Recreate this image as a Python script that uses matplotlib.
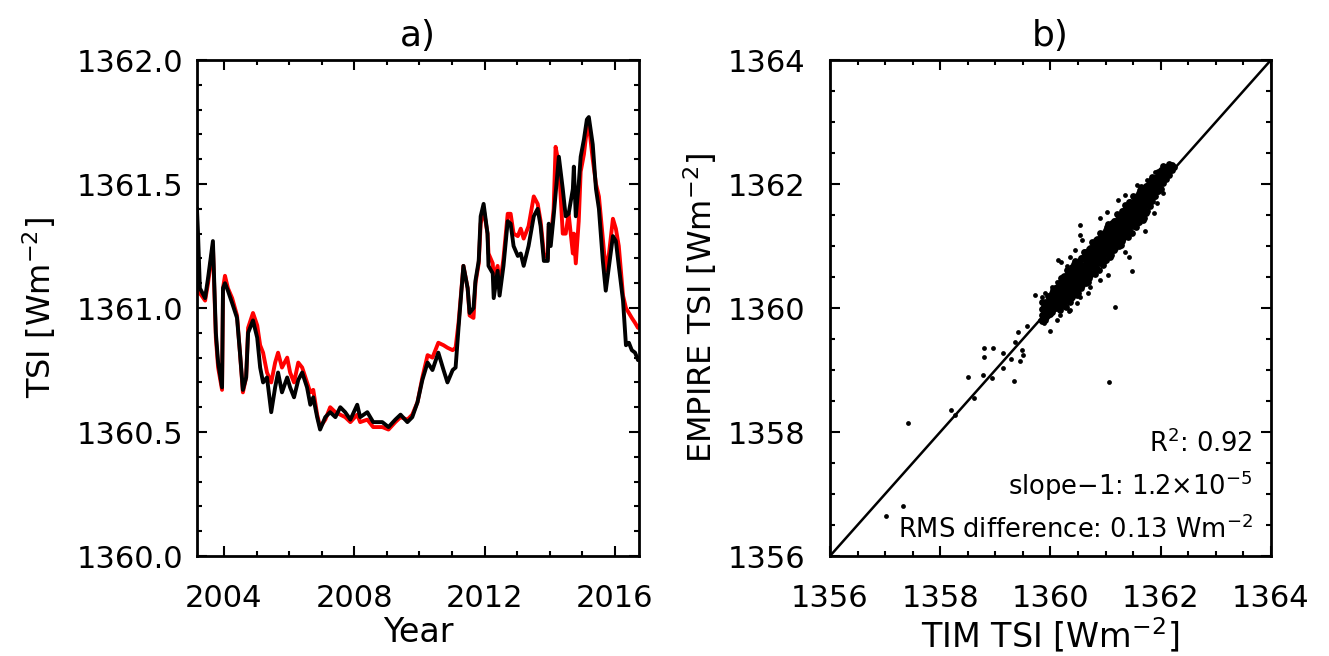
import numpy as np
import matplotlib
matplotlib.use("Agg")
import matplotlib.pyplot as plt
from matplotlib.ticker import MultipleLocator, FormatStrFormatter

plt.rcParams['font.family'] = ['DejaVu Sans']
plt.rcParams['mathtext.default'] = 'regular'

# smoothed TSI time series (Wm-2), panel a
year = [2003.17, 2003.20, 2003.26, 2003.42, 2003.51, 2003.66, 2003.75, 2003.82, 2003.94, 2003.97,
        2004.03, 2004.12, 2004.25, 2004.40, 2004.49, 2004.58, 2004.68, 2004.74, 2004.89, 2005.02,
        2005.11, 2005.20, 2005.32, 2005.45, 2005.57, 2005.66, 2005.78, 2005.94, 2006.03, 2006.15,
        2006.28, 2006.40, 2006.55, 2006.65, 2006.74, 2006.86, 2006.95, 2007.11, 2007.26, 2007.42,
        2007.57, 2007.72, 2007.88, 2008.09, 2008.18, 2008.40, 2008.58, 2008.86, 2009.05, 2009.26,
        2009.42, 2009.63, 2009.78, 2009.94, 2010.09, 2010.25, 2010.40, 2010.58, 2010.74, 2010.86,
        2011.02, 2011.11, 2011.20, 2011.35, 2011.48, 2011.54, 2011.66, 2011.72, 2011.82, 2011.88,
        2011.97, 2012.09, 2012.12, 2012.25, 2012.28, 2012.40, 2012.46, 2012.58, 2012.71, 2012.80,
        2012.89, 2013.02, 2013.11, 2013.20, 2013.35, 2013.51, 2013.63, 2013.72, 2013.82, 2013.94,
        2013.97, 2014.03, 2014.12, 2014.18, 2014.28, 2014.40, 2014.49, 2014.58, 2014.71, 2014.74,
        2014.80, 2014.89, 2014.95, 2015.05, 2015.14, 2015.20, 2015.32, 2015.42, 2015.51, 2015.63,
        2015.72, 2015.82, 2015.94, 2016.03, 2016.12, 2016.25, 2016.34, 2016.43, 2016.52, 2016.62,
        2016.71, 2016.77]

tsi_tim = [1361.08, 1361.06, 1361.06, 1361.03, 1361.10, 1361.25, 1360.88, 1360.76, 1360.67, 1361.08,
           1361.13, 1361.08, 1361.04, 1360.97, 1360.82, 1360.66, 1360.72, 1360.92, 1360.98, 1360.93,
           1360.85, 1360.82, 1360.74, 1360.70, 1360.78, 1360.82, 1360.76, 1360.80, 1360.74, 1360.70,
           1360.78, 1360.76, 1360.70, 1360.66, 1360.67, 1360.57, 1360.52, 1360.55, 1360.60, 1360.58,
           1360.57, 1360.56, 1360.54, 1360.57, 1360.54, 1360.55, 1360.52, 1360.52, 1360.51, 1360.54,
           1360.56, 1360.55, 1360.57, 1360.62, 1360.72, 1360.81, 1360.80, 1360.86, 1360.85, 1360.84,
           1360.83, 1360.84, 1360.94, 1361.17, 1361.08, 1360.97, 1360.96, 1361.10, 1361.18, 1361.34,
           1361.40, 1361.30, 1361.22, 1361.18, 1361.12, 1361.17, 1361.08, 1361.20, 1361.38, 1361.38,
           1361.30, 1361.29, 1361.32, 1361.28, 1361.33, 1361.45, 1361.42, 1361.35, 1361.22, 1361.20,
           1361.33, 1361.28, 1361.40, 1361.65, 1361.58, 1361.30, 1361.30, 1361.38, 1361.22, 1361.30,
           1361.18, 1361.35, 1361.55, 1361.62, 1361.72, 1361.74, 1361.60, 1361.50, 1361.45, 1361.28,
           1361.15, 1361.22, 1361.36, 1361.32, 1361.25, 1361.05, 1361.00, 1360.98, 1360.96, 1360.94,
           1360.92, 1360.93]

tsi_empire = [1361.40, 1361.31, 1361.08, 1361.04, 1361.12, 1361.27, 1360.90, 1360.78, 1360.68, 1361.08,
              1361.10, 1361.07, 1361.02, 1360.96, 1360.82, 1360.67, 1360.72, 1360.90, 1360.95, 1360.88,
              1360.76, 1360.70, 1360.72, 1360.58, 1360.68, 1360.74, 1360.66, 1360.72, 1360.68, 1360.64,
              1360.71, 1360.74, 1360.68, 1360.61, 1360.64, 1360.56, 1360.51, 1360.56, 1360.58, 1360.56,
              1360.60, 1360.58, 1360.55, 1360.61, 1360.56, 1360.58, 1360.54, 1360.54, 1360.52, 1360.55,
              1360.57, 1360.54, 1360.56, 1360.62, 1360.71, 1360.78, 1360.75, 1360.82, 1360.75, 1360.70,
              1360.75, 1360.76, 1360.92, 1361.17, 1361.08, 1360.98, 1361.00, 1361.11, 1361.19, 1361.37,
              1361.42, 1361.30, 1361.17, 1361.14, 1361.04, 1361.15, 1361.05, 1361.17, 1361.35, 1361.34,
              1361.25, 1361.21, 1361.22, 1361.17, 1361.25, 1361.37, 1361.40, 1361.33, 1361.19, 1361.19,
              1361.34, 1361.25, 1361.37, 1361.46, 1361.61, 1361.48, 1361.37, 1361.38, 1361.48, 1361.57,
              1361.37, 1361.50, 1361.61, 1361.68, 1361.76, 1361.77, 1361.66, 1361.48, 1361.40, 1361.19,
              1361.07, 1361.17, 1361.29, 1361.27, 1361.17, 1361.03, 1360.85, 1360.86, 1360.83, 1360.82,
              1360.79, 1360.80]

# daily TIM vs EMPIRE values, panel b: dense core of the cloud
core_tim = [
    1359.85, 1359.85, 1359.85, 1359.85, 1359.90, 1359.90, 1359.90, 1359.90,
    1359.95, 1359.95, 1359.95, 1359.95, 1360.00, 1360.00, 1360.00, 1360.00,
    1360.05, 1360.05, 1360.05, 1360.05, 1360.10, 1360.10, 1360.10, 1360.10,
    1360.15, 1360.15, 1360.15, 1360.15, 1360.15, 1360.20, 1360.20, 1360.20, 1360.20, 1360.20,
    1360.25, 1360.25, 1360.25, 1360.25, 1360.25, 1360.25,
    1360.30, 1360.30, 1360.30, 1360.30, 1360.30, 1360.30,
    1360.35, 1360.35, 1360.35, 1360.35, 1360.35, 1360.35,
    1360.40, 1360.40, 1360.40, 1360.40, 1360.40, 1360.40,
    1360.45, 1360.45, 1360.45, 1360.45, 1360.45, 1360.45,
    1360.50, 1360.50, 1360.50, 1360.50, 1360.50, 1360.50,
    1360.55, 1360.55, 1360.55, 1360.55, 1360.55, 1360.55,
    1360.60, 1360.60, 1360.60, 1360.60, 1360.60, 1360.60,
    1360.65, 1360.65, 1360.65, 1360.65, 1360.65, 1360.65,
    1360.70, 1360.70, 1360.70, 1360.70, 1360.70, 1360.70,
    1360.75, 1360.75, 1360.75, 1360.75, 1360.75, 1360.75,
    1360.80, 1360.80, 1360.80, 1360.80, 1360.80, 1360.80,
    1360.85, 1360.85, 1360.85, 1360.85, 1360.85, 1360.85,
    1360.90, 1360.90, 1360.90, 1360.90, 1360.90, 1360.90,
    1360.95, 1360.95, 1360.95, 1360.95, 1360.95, 1360.95,
    1361.00, 1361.00, 1361.00, 1361.00, 1361.00, 1361.00,
    1361.05, 1361.05, 1361.05, 1361.05, 1361.05, 1361.05,
    1361.10, 1361.10, 1361.10, 1361.10, 1361.10, 1361.10,
    1361.15, 1361.15, 1361.15, 1361.15, 1361.15, 1361.15,
    1361.20, 1361.20, 1361.20, 1361.20, 1361.20, 1361.20,
    1361.25, 1361.25, 1361.25, 1361.25, 1361.25, 1361.25,
    1361.30, 1361.30, 1361.30, 1361.30, 1361.30, 1361.30,
    1361.35, 1361.35, 1361.35, 1361.35, 1361.35, 1361.35,
    1361.40, 1361.40, 1361.40, 1361.40, 1361.40, 1361.40,
    1361.45, 1361.45, 1361.45, 1361.45, 1361.45, 1361.45,
    1361.50, 1361.50, 1361.50, 1361.50, 1361.50, 1361.50,
    1361.55, 1361.55, 1361.55, 1361.55, 1361.55, 1361.55,
    1361.60, 1361.60, 1361.60, 1361.60, 1361.60, 1361.60,
    1361.65, 1361.65, 1361.65, 1361.65, 1361.65, 1361.65,
    1361.70, 1361.70, 1361.70, 1361.70, 1361.70, 1361.70,
    1361.75, 1361.75, 1361.75, 1361.75, 1361.75,
    1361.80, 1361.80, 1361.80, 1361.80, 1361.80,
    1361.85, 1361.85, 1361.85, 1361.85, 1361.85,
    1361.90, 1361.90, 1361.90, 1361.90, 1361.95, 1361.95, 1361.95, 1361.95,
    1362.00, 1362.00, 1362.00, 1362.00, 1362.05, 1362.05, 1362.05, 1362.05,
    1362.10, 1362.10, 1362.10, 1362.15, 1362.15, 1362.15, 1362.20, 1362.20, 1362.25,
    1359.875, 1359.875, 1359.875, 1359.925, 1359.925, 1359.925, 1359.975, 1359.975, 1359.975,
    1360.025, 1360.025, 1360.025, 1360.025, 1360.075, 1360.075, 1360.075, 1360.075,
    1360.125, 1360.125, 1360.125, 1360.125,
    1360.175, 1360.175, 1360.175, 1360.175, 1360.175, 1360.225, 1360.225, 1360.225, 1360.225, 1360.225,
    1360.275, 1360.275, 1360.275, 1360.275, 1360.275, 1360.325, 1360.325, 1360.325, 1360.325, 1360.325,
    1360.375, 1360.375, 1360.375, 1360.375, 1360.375, 1360.425, 1360.425, 1360.425, 1360.425, 1360.425,
    1360.475, 1360.475, 1360.475, 1360.475, 1360.475, 1360.525, 1360.525, 1360.525, 1360.525, 1360.525,
    1360.575, 1360.575, 1360.575, 1360.575, 1360.575, 1360.625, 1360.625, 1360.625, 1360.625, 1360.625,
    1360.675, 1360.675, 1360.675, 1360.675, 1360.675, 1360.725, 1360.725, 1360.725, 1360.725, 1360.725,
    1360.775, 1360.775, 1360.775, 1360.775, 1360.775, 1360.825, 1360.825, 1360.825, 1360.825, 1360.825,
    1360.875, 1360.875, 1360.875, 1360.875, 1360.875, 1360.925, 1360.925, 1360.925, 1360.925, 1360.925,
    1360.975, 1360.975, 1360.975, 1360.975, 1360.975, 1361.025, 1361.025, 1361.025, 1361.025, 1361.025,
    1361.075, 1361.075, 1361.075, 1361.075, 1361.075, 1361.125, 1361.125, 1361.125, 1361.125, 1361.125,
    1361.175, 1361.175, 1361.175, 1361.175, 1361.175, 1361.225, 1361.225, 1361.225, 1361.225, 1361.225,
    1361.275, 1361.275, 1361.275, 1361.275, 1361.275, 1361.325, 1361.325, 1361.325, 1361.325, 1361.325,
    1361.375, 1361.375, 1361.375, 1361.375, 1361.375, 1361.425, 1361.425, 1361.425, 1361.425, 1361.425,
    1361.475, 1361.475, 1361.475, 1361.475, 1361.475, 1361.525, 1361.525, 1361.525, 1361.525, 1361.525,
    1361.575, 1361.575, 1361.575, 1361.575, 1361.575, 1361.625, 1361.625, 1361.625, 1361.625, 1361.625,
    1361.675, 1361.675, 1361.675, 1361.675, 1361.675, 1361.725, 1361.725, 1361.725, 1361.725, 1361.725,
    1361.775, 1361.775, 1361.775, 1361.775, 1361.825, 1361.825, 1361.825, 1361.825,
    1361.875, 1361.875, 1361.875, 1361.925, 1361.925, 1361.925, 1361.975, 1361.975, 1361.975,
    1362.025, 1362.025, 1362.025, 1362.075, 1362.075, 1362.125, 1362.125]

core_empire = [
    1359.79, 1359.89, 1359.99, 1360.09, 1359.80, 1359.90, 1359.99, 1360.09,
    1359.89, 1359.99, 1360.09, 1360.19, 1359.90, 1360.00, 1360.09, 1360.19,
    1359.99, 1360.09, 1360.19, 1360.29, 1360.00, 1360.10, 1360.19, 1360.29,
    1360.00, 1360.10, 1360.20, 1360.30, 1360.40, 1360.08, 1360.18, 1360.28, 1360.38, 1360.48,
    1360.03, 1360.13, 1360.22, 1360.31, 1360.40, 1360.51,
    1360.12, 1360.22, 1360.31, 1360.40, 1360.50, 1360.61,
    1360.10, 1360.20, 1360.30, 1360.39, 1360.48, 1360.57,
    1360.18, 1360.28, 1360.37, 1360.46, 1360.55, 1360.66,
    1360.27, 1360.37, 1360.46, 1360.55, 1360.65, 1360.76,
    1360.25, 1360.35, 1360.45, 1360.54, 1360.63, 1360.72,
    1360.33, 1360.43, 1360.52, 1360.61, 1360.70, 1360.81,
    1360.42, 1360.52, 1360.61, 1360.70, 1360.80, 1360.91,
    1360.40, 1360.50, 1360.60, 1360.69, 1360.78, 1360.87,
    1360.48, 1360.58, 1360.67, 1360.76, 1360.85, 1360.96,
    1360.57, 1360.67, 1360.76, 1360.85, 1360.95, 1361.06,
    1360.55, 1360.65, 1360.75, 1360.84, 1360.93, 1361.02,
    1360.63, 1360.73, 1360.82, 1360.91, 1361.00, 1361.11,
    1360.72, 1360.82, 1360.91, 1361.00, 1361.10, 1361.21,
    1360.70, 1360.80, 1360.90, 1360.99, 1361.08, 1361.17,
    1360.78, 1360.88, 1360.97, 1361.06, 1361.15, 1361.26,
    1360.87, 1360.97, 1361.06, 1361.15, 1361.25, 1361.36,
    1360.85, 1360.95, 1361.05, 1361.14, 1361.23, 1361.32,
    1360.93, 1361.03, 1361.12, 1361.21, 1361.30, 1361.41,
    1361.02, 1361.12, 1361.21, 1361.30, 1361.40, 1361.51,
    1361.00, 1361.10, 1361.20, 1361.29, 1361.38, 1361.47,
    1361.08, 1361.18, 1361.27, 1361.36, 1361.45, 1361.56,
    1361.17, 1361.27, 1361.36, 1361.45, 1361.55, 1361.66,
    1361.15, 1361.25, 1361.35, 1361.44, 1361.53, 1361.62,
    1361.23, 1361.33, 1361.42, 1361.51, 1361.60, 1361.71,
    1361.32, 1361.42, 1361.51, 1361.60, 1361.70, 1361.81,
    1361.30, 1361.40, 1361.50, 1361.59, 1361.68, 1361.77,
    1361.38, 1361.48, 1361.57, 1361.66, 1361.75, 1361.86,
    1361.47, 1361.57, 1361.66, 1361.75, 1361.85, 1361.96,
    1361.45, 1361.55, 1361.65, 1361.74, 1361.83, 1361.92,
    1361.57, 1361.67, 1361.76, 1361.85, 1361.95,
    1361.65, 1361.75, 1361.85, 1361.94, 1362.03,
    1361.73, 1361.83, 1361.93, 1362.03, 1362.12,
    1361.80, 1361.90, 1362.00, 1362.10, 1361.89, 1361.99, 1362.09, 1362.19,
    1361.92, 1362.02, 1362.12, 1362.22, 1362.01, 1362.11, 1362.21, 1362.29,
    1362.08, 1362.18, 1362.28, 1362.15, 1362.25, 1362.32, 1362.22, 1362.30, 1362.28,
    1359.835, 1359.935, 1360.025, 1359.855, 1359.955, 1360.055, 1359.925, 1360.025, 1360.135,
    1359.935, 1360.055, 1360.165, 1360.245, 1360.015, 1360.115, 1360.225, 1360.325,
    1360.025, 1360.145, 1360.245, 1360.345,
    1359.965, 1360.085, 1360.195, 1360.295, 1360.405, 1360.065, 1360.175, 1360.295, 1360.395, 1360.505,
    1360.015, 1360.145, 1360.265, 1360.365, 1360.465, 1360.135, 1360.255, 1360.365, 1360.465, 1360.565,
    1360.165, 1360.285, 1360.395, 1360.495, 1360.605, 1360.265, 1360.375, 1360.495, 1360.595, 1360.705,
    1360.215, 1360.345, 1360.465, 1360.565, 1360.665, 1360.335, 1360.455, 1360.565, 1360.665, 1360.765,
    1360.365, 1360.485, 1360.595, 1360.695, 1360.805, 1360.465, 1360.575, 1360.695, 1360.795, 1360.905,
    1360.415, 1360.545, 1360.665, 1360.765, 1360.865, 1360.535, 1360.655, 1360.765, 1360.865, 1360.965,
    1360.565, 1360.685, 1360.795, 1360.895, 1361.005, 1360.665, 1360.775, 1360.895, 1360.995, 1361.105,
    1360.615, 1360.745, 1360.865, 1360.965, 1361.065, 1360.735, 1360.855, 1360.965, 1361.065, 1361.165,
    1360.765, 1360.885, 1360.995, 1361.095, 1361.205, 1360.865, 1360.975, 1361.095, 1361.195, 1361.305,
    1360.815, 1360.945, 1361.065, 1361.165, 1361.265, 1360.935, 1361.055, 1361.165, 1361.265, 1361.365,
    1360.965, 1361.085, 1361.195, 1361.295, 1361.405, 1361.065, 1361.175, 1361.295, 1361.395, 1361.505,
    1361.015, 1361.145, 1361.265, 1361.365, 1361.465, 1361.135, 1361.255, 1361.365, 1361.465, 1361.565,
    1361.165, 1361.285, 1361.395, 1361.495, 1361.605, 1361.265, 1361.375, 1361.495, 1361.595, 1361.705,
    1361.215, 1361.345, 1361.465, 1361.565, 1361.665, 1361.335, 1361.455, 1361.565, 1361.665, 1361.765,
    1361.365, 1361.485, 1361.595, 1361.695, 1361.805, 1361.465, 1361.575, 1361.695, 1361.795, 1361.905,
    1361.415, 1361.545, 1361.665, 1361.765, 1361.865, 1361.535, 1361.655, 1361.765, 1361.865, 1361.965,
    1361.655, 1361.775, 1361.885, 1361.985, 1361.735, 1361.855, 1361.955, 1362.065,
    1361.805, 1361.925, 1362.035, 1361.895, 1362.005, 1362.115, 1361.925, 1362.035, 1362.145,
    1362.025, 1362.125, 1362.225, 1362.105, 1362.205, 1362.175, 1362.265]

# scattered days around the main cloud
halo_tim = [1360.54, 1360.54, 1360.90, 1361.02, 1361.23, 1361.35, 1361.57, 1361.75, 1361.90,
            1360.14, 1360.20, 1360.36, 1360.45, 1360.57, 1359.84, 1359.90, 1360.02, 1360.11,
            1360.30, 1361.48, 1361.72, 1361.42, 1361.35, 1361.05, 1360.90, 1360.72, 1360.69,
            1360.54, 1360.48, 1360.36, 1360.17, 1360.11, 1362.05, 1361.87, 1361.93, 1359.72]
halo_empire = [1361.34, 1361.18, 1361.45, 1361.55, 1361.74, 1361.82, 1361.98, 1362.06, 1362.20,
               1360.77, 1360.75, 1360.83, 1360.94, 1361.10, 1360.18, 1360.24, 1360.34, 1360.42,
               1360.67, 1360.60, 1361.25, 1360.83, 1360.91, 1360.53, 1360.45, 1360.34, 1360.24,
               1360.18, 1360.08, 1359.97, 1359.89, 1359.81, 1361.85, 1361.53, 1361.69, 1360.21]

# outlying days
outlier_tim = [1357.02, 1357.33, 1357.42, 1358.20, 1358.27, 1358.51, 1358.61, 1358.78, 1358.80,
               1358.80, 1358.96, 1358.94, 1359.14, 1359.14, 1359.28, 1359.34, 1359.36, 1359.41,
               1359.45, 1359.49, 1359.50, 1359.58, 1359.81, 1359.88, 1359.99, 1360.34, 1361.06,
               1361.17]
outlier_empire = [1356.65, 1356.81, 1358.15, 1358.35, 1358.27, 1358.89, 1358.55, 1358.92, 1359.21,
                  1359.35, 1359.35, 1358.87, 1359.27, 1359.03, 1359.18, 1358.82, 1359.45, 1359.61,
                  1359.15, 1359.32, 1359.24, 1359.71, 1359.81, 1359.76, 1359.63, 1359.95, 1358.81,
                  1360.02]

r2 = 0.92
slope_minus_one = r'1.2$\times$10$^{-5}$'
rms_diff = 0.13

FS = 22
fig = plt.figure(figsize=(13.29, 6.56), dpi=100)
ax1 = fig.add_axes([0.1482, 0.1524, 0.3326, 0.7561])
ax2 = fig.add_axes([0.6245, 0.1524, 0.3318, 0.7561])

# panel a: time series
ax1.plot(year, tsi_tim, color='#ff0000', lw=2.8)
ax1.plot(year, tsi_empire, color='black', lw=2.8)
ax1.set_xlim(2003.17, 2016.74)
ax1.set_ylim(1360.0, 1362.0)
ax1.xaxis.set_major_locator(MultipleLocator(4))
ax1.xaxis.set_minor_locator(MultipleLocator(1))
ax1.yaxis.set_major_locator(MultipleLocator(0.5))
ax1.yaxis.set_minor_locator(MultipleLocator(0.1))
ax1.yaxis.set_major_formatter(FormatStrFormatter('%.1f'))
ax1.set_title('a)', fontsize=26, pad=10)
ax1.set_xlabel('Year', fontsize=24)
ax1.set_ylabel('TSI [Wm$^{-2}$]', fontsize=23)
ax1.xaxis.set_label_coords(0.5, -0.12)
ax1.yaxis.set_label_coords(-0.315, 0.5)

# panel b: daily scatter with 1:1 line
ax2.plot([1356, 1364], [1356, 1364], color='black', lw=1.8)
ax2.scatter(core_tim, core_empire, s=24, color='black', linewidths=0)
ax2.scatter(halo_tim, halo_empire, s=12, color='black', linewidths=0)
ax2.scatter(outlier_tim, outlier_empire, s=12, color='black', linewidths=0)
ax2.set_xlim(1356, 1364)
ax2.set_ylim(1356, 1364)
for axis in (ax2.xaxis, ax2.yaxis):
    axis.set_major_locator(MultipleLocator(2))
    axis.set_minor_locator(MultipleLocator(0.5))
ax2.set_title('b)', fontsize=26, pad=10)
ax2.set_xlabel('TIM TSI [Wm$^{-2}$]', fontsize=24)
ax2.set_ylabel('EMPIRE TSI [Wm$^{-2}$]', fontsize=23)
ax2.xaxis.set_label_coords(0.5, -0.12)
ax2.yaxis.set_label_coords(-0.252, 0.5)

ax2.text(0.959, 0.210, f'R$^2$: {r2:.2f}', transform=ax2.transAxes,
         ha='right', va='baseline', fontsize=18.5)
ax2.text(0.959, 0.123, 'slope$-$1: ' + slope_minus_one, transform=ax2.transAxes,
         ha='right', va='baseline', fontsize=18.5)
ax2.text(0.959, 0.036, f'RMS difference: {rms_diff:.2f} Wm$^{{-2}}$', transform=ax2.transAxes,
         ha='right', va='baseline', fontsize=18.5)

for ax in (ax1, ax2):
    for sp in ax.spines.values():
        sp.set_linewidth(2.0)
    ax.tick_params(which='both', direction='in', top=True, right=True, width=1.5,
                   labelsize=FS)
    ax.tick_params(which='major', length=7)
    ax.tick_params(which='minor', length=3.6)
    ax.tick_params(axis='x', which='major', pad=20)
ax1.tick_params(axis='y', which='major', pad=10)
ax2.tick_params(axis='y', which='major', pad=18)

fig.savefig('out.png', dpi=100)
